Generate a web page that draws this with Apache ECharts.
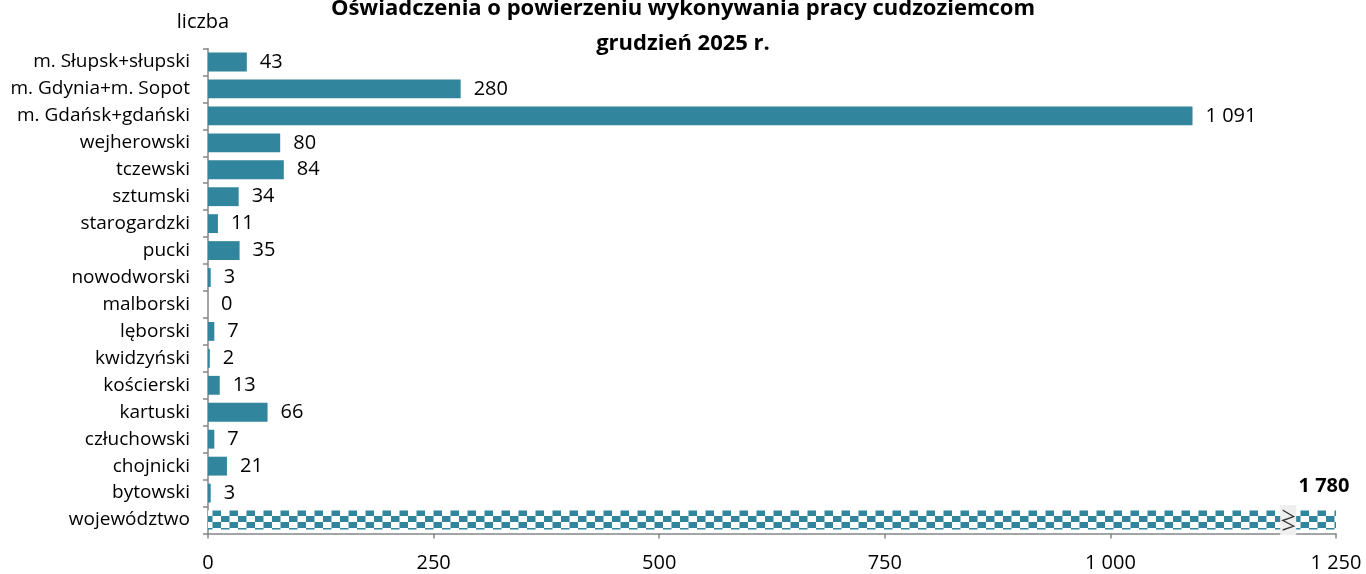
<!DOCTYPE html>
<html>
<head>
<meta charset="utf-8">
<script src="https://cdn.jsdelivr.net/npm/echarts@6/dist/echarts.min.js"></script>
<style>html,body{margin:0;padding:0;background:#fff}#c{width:1366px;height:574px}</style>
</head>
<body>
<div id="c"></div>
<script>
// ---- data ----
const titleLines = ['Oświadczenia o powierzeniu wykonywania pracy cudzoziemcom', 'grudzień 2025 r.'];
const axisName = 'liczba';
const categories = ['m. Słupsk+słupski','m. Gdynia+m. Sopot','m. Gdańsk+gdański','wejherowski','tczewski','sztumski','starogardzki','pucki','nowodworski','malborski','lęborski','kwidzyński','kościerski','kartuski','człuchowski','chojnicki','bytowski','województwo'];
const values = [43, 280, 1091, 80, 84, 34, 11, 35, 3, 0, 7, 2, 13, 66, 7, 21, 3, 1780];
const totalCategory = 'województwo';
const xTicks = [0, 250, 500, 750, 1000, 1250];

// ---- style ----
const X_MIN = xTicks[0], X_MAX = xTicks[xTicks.length - 1], X_STEP = xTicks[1] - xTicks[0];
const BAR = '#31859C';
const AXIS = '#868686';
const FONT = '"Open Sans", "Liberation Sans", sans-serif';
const BREAK_AT = 1197; // position of the axis-break marker on the capped total bar

function fmt(v) { return String(v).replace(/\B(?=(\d{3})+(?!\d))/g, ' '); }

// checkered pattern for the total bar
const pc = document.createElement('canvas');
pc.width = 17; pc.height = 12;
const g = pc.getContext('2d');
g.fillStyle = '#fff'; g.fillRect(0, 0, 17, 12);
g.fillStyle = BAR;
g.fillRect(0, 0, 8.5, 6);
g.fillRect(8.5, 6, 8.5, 6);

const seriesData = values.map((v, i) => {
  const isTotal = categories[i] === totalCategory;
  const item = { value: Math.min(v, X_MAX), raw: v };
  if (isTotal) {
    item.itemStyle = { color: { image: pc, repeat: 'repeat' } };
    item.label = {
      position: ['100%', 0], align: 'center', verticalAlign: 'bottom',
      offset: [-12, -14], fontWeight: 'bold', fontSize: 20
    };
  }
  return item;
});

const chart = echarts.init(document.getElementById('c'), null, { renderer: 'canvas' });
chart.setOption({
  animation: false,
  textStyle: { fontFamily: FONT },
  title: {
    text: titleLines.join('\n'),
    left: 'center', top: -14,
    textStyle: { fontFamily: FONT, fontSize: 22, fontWeight: 'bold', color: '#000', lineHeight: 35 }
  },
  grid: { left: 208, right: 30, top: 48.5, bottom: 40.5, containLabel: false },
  xAxis: {
    type: 'value', min: X_MIN, max: X_MAX, interval: X_STEP,
    axisLine: { show: true, lineStyle: { color: AXIS, width: 1.5 } },
    axisTick: { show: true, length: 5, lineStyle: { color: AXIS, width: 1.5 } },
    splitLine: { show: false },
    axisLabel: { formatter: fmt, fontSize: 20, color: '#000', margin: 20, fontFamily: FONT }
  },
  yAxis: {
    type: 'category', data: categories, inverse: true,
    name: axisName, nameLocation: 'start', nameGap: 16,
    nameTextStyle: { fontSize: 20, color: '#000', fontFamily: FONT, padding: [0, 10, 0, 0] },
    axisLine: { show: true, lineStyle: { color: AXIS, width: 1.5 } },
    axisTick: { show: true, length: 5, lineStyle: { color: AXIS, width: 1.5 } },
    axisLabel: { fontSize: 19, color: '#000', margin: 18, fontFamily: FONT }
  },
  series: [{
    type: 'bar',
    data: seriesData,
    barCategoryGap: '30%',
    itemStyle: { color: BAR },
    label: {
      show: true, position: 'right', distance: 13,
      fontSize: 20, color: '#000', fontFamily: FONT,
      formatter: p => fmt(p.data.raw)
    },
    markPoint: {
      silent: true,
      label: { show: false },
      data: [
        { coord: [BREAK_AT, totalCategory], symbol: 'rect', symbolSize: [16, 30],
          itemStyle: { color: '#efefef' } },
        { coord: [BREAK_AT, totalCategory], symbol: 'path://M0 0 L10 7 L0 11 L10 17 L0 21',
          symbolSize: [11, 20], itemStyle: { color: 'none', borderColor: '#333', borderWidth: 1 } }
      ]
    }
  }]
});
</script>
</body>
</html>
